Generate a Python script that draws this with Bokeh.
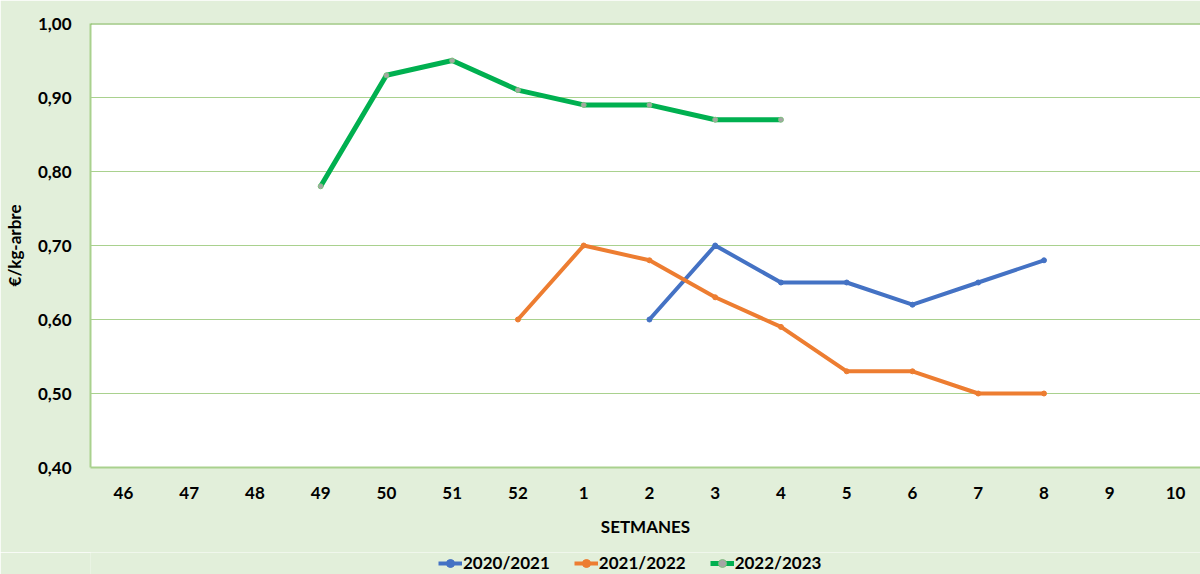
from bokeh.plotting import figure
from bokeh.layouts import column
from bokeh.models import (Range1d, FixedTicker, CustomJSTickFormatter, Legend, LegendItem, Span)
from bokeh.embed import file_html
from bokeh.resources import INLINE

weeks = ["46", "47", "48", "49", "50", "51", "52", "1", "2", "3", "4", "5", "6", "7", "8", "9", "10"]

s2020_weeks = ["2", "3", "4", "5", "6", "7", "8"]
s2020_vals = [0.60, 0.70, 0.65, 0.65, 0.62, 0.65, 0.68]

s2021_weeks = ["52", "1", "2", "3", "4", "5", "6", "7", "8"]
s2021_vals = [0.60, 0.70, 0.68, 0.63, 0.59, 0.53, 0.53, 0.50, 0.50]

s2022_weeks = ["49", "50", "51", "52", "1", "2", "3", "4"]
s2022_vals = [0.78, 0.93, 0.95, 0.91, 0.89, 0.89, 0.87, 0.87]

series_names = ["2020/2021", "2021/2022", "2022/2023"]
y_ticks = [0.40, 0.50, 0.60, 0.70, 0.80, 0.90, 1.00]

BG = "#E2EFDA"
GRID = "#A9D18E"
FONT = "Lato"
FS = "17px"
COLORS = ["#4472C4", "#ED7D31", "#00B050"]
WIDTHS = [4, 4, 5]
MK_FILL = ["#4472C4", "#ED7D31", "#A5A5A5"]
MK_LINE = ["#4472C4", "#ED7D31", "#7FBF7F"]

W = 1200
H_MAIN = 552
H_LEG = 22

p = figure(width=W, height=H_MAIN, output_backend="svg", toolbar_location=None,
           x_range=Range1d(-0.5, 16.38), y_range=Range1d(0.40, 1.00),
           background_fill_color="white", border_fill_color=BG,
           min_border_left=90, min_border_right=0, min_border_top=23, min_border_bottom=85)
p.outline_line_color = None

pos = {w: i for i, w in enumerate(weeks)}

def xs(ws):
    return [pos[w] for w in ws]

all_weeks = [s2020_weeks, s2021_weeks, s2022_weeks]
all_vals = [s2020_vals, s2021_vals, s2022_vals]

for ws, vals, c, lw, mf, ml in zip(all_weeks, all_vals, COLORS, WIDTHS, MK_FILL, MK_LINE):
    p.line(xs(ws), vals, line_color=c, line_width=lw, line_join="round")
    p.scatter(xs(ws), vals, size=5, fill_color=mf, line_color=ml)

p.add_layout(Span(location=1.0, dimension="width", line_color="#70AD47", line_width=2))

# x axis
p.xaxis.ticker = FixedTicker(ticks=list(range(len(weeks))))
p.xaxis.major_label_overrides = {i: w for i, w in enumerate(weeks)}
p.xaxis.axis_label = "SETMANES"
p.xaxis.axis_line_color = GRID
p.xaxis.axis_line_width = 2
p.xaxis.major_tick_line_color = None
p.xaxis.minor_tick_line_color = None
p.xaxis.major_label_standoff = 13
p.xaxis.axis_label_standoff = 14
p.xgrid.grid_line_color = None

# y axis
p.yaxis.ticker = FixedTicker(ticks=y_ticks)
p.yaxis.formatter = CustomJSTickFormatter(code="return tick.toFixed(2).replace('.', ',');")
p.yaxis.axis_label = "€/kg-arbre"
p.yaxis.axis_line_color = GRID
p.yaxis.axis_line_width = 2
p.yaxis.major_tick_line_color = None
p.yaxis.minor_tick_line_color = None
p.yaxis.major_label_standoff = 13
p.yaxis.axis_label_standoff = 10
p.ygrid.grid_line_color = GRID
p.ygrid.grid_line_width = 1.2

for ax in (p.xaxis, p.yaxis):
    ax.major_label_text_font = FONT
    ax.major_label_text_font_style = "bold"
    ax.major_label_text_font_size = FS
    ax.major_label_text_color = "black"
    ax.axis_label_text_font = FONT
    ax.axis_label_text_font_style = "bold"
    ax.axis_label_text_font_size = FS
    ax.axis_label_text_color = "black"

# legend strip below the chart (same series, drawn outside its visible range)
pl = figure(width=W, height=H_LEG, output_backend="svg", toolbar_location=None,
            x_range=Range1d(-0.5, 16.38), y_range=Range1d(10, 11),
            x_axis_location=None, y_axis_location=None,
            background_fill_color=BG, border_fill_color=BG,
            min_border=0)
pl.outline_line_color = None
pl.grid.grid_line_color = None

items = []
for name, ws, vals, c, lw, mf, ml in zip(series_names, all_weeks, all_vals, COLORS, WIDTHS, MK_FILL, MK_LINE):
    rl = pl.line(xs(ws), vals, line_color=c, line_width=lw)
    rs = pl.scatter(xs(ws), vals, size=5, fill_color=mf, line_color=ml)
    items.append(LegendItem(label=name, renderers=[rl, rs]))

legend = Legend(items=items, orientation="horizontal", location=(348, 1))
legend.background_fill_alpha = 0
legend.border_line_color = None
legend.label_text_font = FONT
legend.label_text_font_style = "bold"
legend.label_text_font_size = FS
legend.label_text_color = "black"
legend.glyph_width = 24
legend.label_standoff = 1
legend.spacing = 24
legend.padding = 0
legend.margin = 0
pl.add_layout(legend, "center")

layout = column(p, pl, spacing=0)
open("out.html", "w").write(file_html(layout, INLINE))
